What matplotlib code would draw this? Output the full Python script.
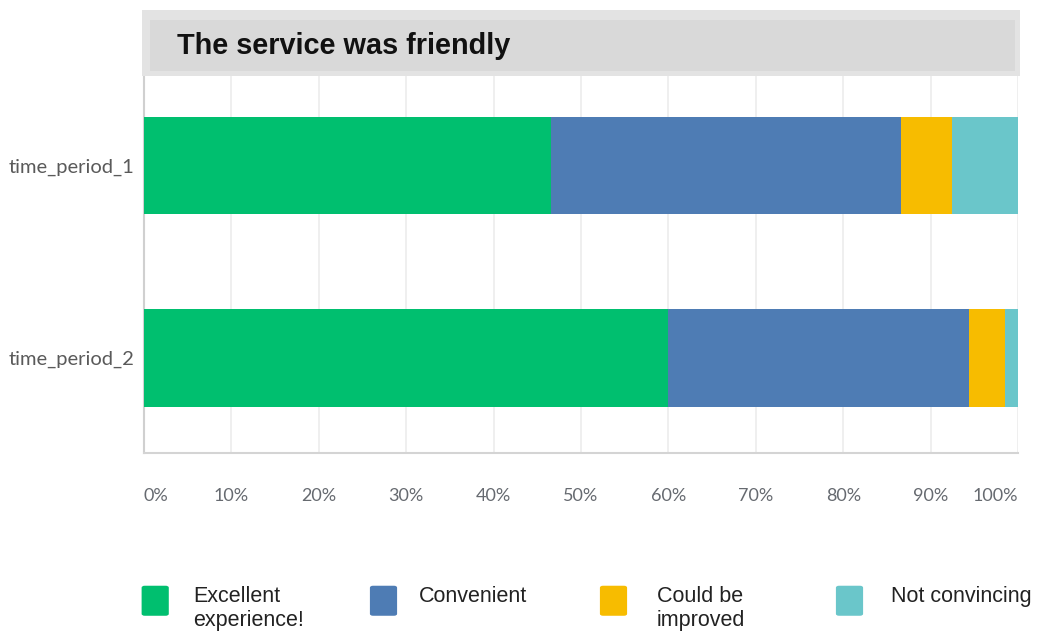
import matplotlib
matplotlib.use("Agg")
import matplotlib.pyplot as plt
from matplotlib.patches import Rectangle, FancyBboxPatch
import numpy as np

# Survey data (percent of respondents)
periods = ["time_period_1", "time_period_2"]
answers = ["Excellent\nexperience!", "Convenient", "Could be\nimproved", "Not convincing"]
colors = ["#00bf6f", "#4e7cb4", "#f7bc00", "#6ac6ca"]
excellent = [46.6, 60.0]
convenient = [40.0, 34.4]
could_improve = [5.8, 4.1]
not_convincing = [7.6, 1.5]
series = [excellent, convenient, could_improve, not_convincing]
tick_values = [0, 10, 20, 30, 40, 50, 60, 70, 80, 90, 100]
tick_labels = [f"{v}%" for v in tick_values]
title = "The service was friendly"

W, H = 1045, 632
fig = plt.figure(figsize=(W / 100, H / 100), dpi=100)
fig.patch.set_facecolor("white")


def fx(px):
    return px / W


def fy(py):
    return 1 - py / H


# Plot area
ax = fig.add_axes([fx(144), fy(453), fx(1018) - fx(144), fy(76) - fy(453)])
y = np.arange(len(periods))
left = np.zeros(len(periods))
for vals, col in zip(series, colors):
    ax.barh(y, vals, left=left, height=0.504, color=col, edgecolor="none", zorder=3)
    left += np.array(vals)

ax.set_xlim(0, 100)
ax.set_ylim(1.4935, -0.465)
ax.set_xticks(tick_values)
ax.set_xticklabels(tick_labels)
ax.set_yticks(y)
ax.set_yticklabels(periods)
ax.grid(axis="x", color="#ececec", linewidth=1.2, zorder=0)
ax.tick_params(axis="both", length=0)
ax.tick_params(axis="x", pad=25, labelsize=13, labelcolor="#666a70")
ax.tick_params(axis="y", pad=7, labelsize=14.5, labelcolor="#5a5a5a")
for lab in ax.get_xticklabels():
    lab.set_fontfamily("Lato")
for lab in ax.get_yticklabels():
    lab.set_fontfamily("Lato")
xt = ax.get_xticklabels()
xt[0].set_horizontalalignment("left")
xt[-1].set_horizontalalignment("right")

for side in ["top", "right"]:
    ax.spines[side].set_visible(False)
ax.spines["left"].set_color("#d0d0d0")
ax.spines["left"].set_linewidth(1.5)
ax.spines["bottom"].set_color("#d4d4d4")
ax.spines["bottom"].set_linewidth(1.5)

# Title band
fig.patches.append(Rectangle((fx(142), fy(76)), fx(1020) - fx(142), fy(10) - fy(76),
                             transform=fig.transFigure, facecolor="#e3e3e3",
                             edgecolor="none", zorder=0))
fig.patches.append(Rectangle((fx(150), fy(70.7)), fx(1015) - fx(150), fy(20.5) - fy(70.7),
                             transform=fig.transFigure, facecolor="#d9d9d9",
                             edgecolor="none", zorder=1))
fig.text(fx(177), fy(46), title, fontsize=20.8, fontweight="bold",
         family="Liberation Sans", color="#111111", va="center", ha="left")

# Legend
box_x = [141.7, 370, 600, 836]
text_x = [193, 419, 657, 891]
for bx, tx, name, col in zip(box_x, text_x, answers, colors):
    fig.patches.append(FancyBboxPatch((fx(bx + 2), fy(614.5)), fx(23), fy(587) - fy(614.5),
                                      boxstyle="round,pad=0.002,rounding_size=0.003",
                                      transform=fig.transFigure, facecolor=col,
                                      edgecolor="none"))
    fig.text(fx(tx), fy(586), name, fontsize=15.5, family="Liberation Sans",
             color="#222222", va="top", ha="left", linespacing=1.2)

fig.savefig("out.png", dpi=100, facecolor="white")
